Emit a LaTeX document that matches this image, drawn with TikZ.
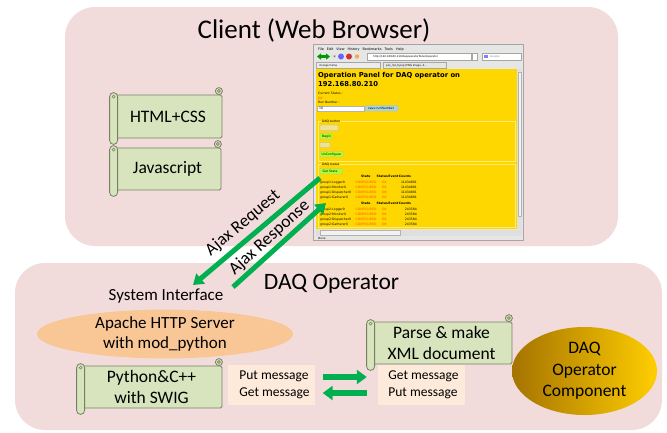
\documentclass[tikz,border=0pt]{standalone}
\usepackage{fontspec}
\setmainfont{Carlito}
\newfontfamily\uifont{DejaVu Sans}
\usetikzlibrary{arrows.meta,shapes.geometric}

\definecolor{panelpink}{RGB}{242,220,219}
\definecolor{scrollgreen}{RGB}{215,228,189}
\definecolor{scrollline}{RGB}{120,128,100}
\definecolor{apacheorange}{RGB}{249,198,150}
\definecolor{msgpeach}{RGB}{253,234,218}
\definecolor{ajaxgreen}{RGB}{0,176,80}
\definecolor{golddark}{RGB}{165,115,0}
\definecolor{goldlight}{RGB}{255,206,0}
\definecolor{pageyellow}{RGB}{255,215,0}
\definecolor{fieldline}{RGB}{255,236,120}
\definecolor{chromegray}{RGB}{230,230,228}
\definecolor{btnblue}{RGB}{170,214,228}
\definecolor{btngreen}{RGB}{173,255,47}
\definecolor{btnpale}{RGB}{238,226,150}
\definecolor{stateorange}{RGB}{255,80,0}

% rolled parts of a horizontal scroll drawn around a body node
\newcommand\scrolldeco[1]{%
  \draw[scrollpart, rounded corners=3.5pt] ([xshift=-7pt]#1.north east) rectangle ([yshift=7pt]#1.north east);
  \draw[scrollline, line width=0.6pt] ([shift={(-3.5pt,3.6pt)}]#1.north east) circle[radius=1.5pt];
  \draw[scrollpart, rounded corners=4pt] ([shift={(-4pt,2pt)}]#1.north west) rectangle ([shift={(4pt,-6pt)}]#1.south west);
  \draw[scrollline, line width=0.6pt] ([yshift=-2pt]#1.north west) circle[radius=1.5pt];
}

% one line of the status table
\newcommand\statusrow[4]{%
  \node[uitext] (#1name) at (320,#2) {#3};
  \node[uitext, text=stateorange] (#1state) at (355.5,#2) {CONFIGURED};
  \node[uitext, text=stateorange] (#1ok) at (382,#2) {OK};
  \node[uitext, anchor=base east] (#1count) at (417,#2) {#4};
}

\begin{document}
\begin{tikzpicture}[x=1pt,y=-1pt,
  panel/.style={fill=panelpink, rounded corners=30pt},
  title/.style={font=\fontsize{27}{30}\selectfont, inner sep=0pt},
  scrollbody/.style={draw=scrollline, fill=scrollgreen, line width=0.8pt,
    rounded corners=1.5pt, inner sep=0pt, align=center,
    font=\fontsize{17.5}{20.5}\selectfont},
  scrollpart/.style={draw=scrollline, fill=scrollgreen, line width=0.8pt},
  msgbox/.style={fill=msgpeach, inner sep=0pt, align=left,
    minimum width=87pt, minimum height=40pt,
    font=\fontsize{13.5}{16.5}\selectfont},
  ajax/.style={draw=ajaxgreen, line width=5pt},
  ajaxlabel/.style={sloped, inner sep=0pt, font=\fontsize{17.5}{20}\selectfont},
  msgarrow/.style={draw=ajaxgreen, line width=6pt, -{Triangle[width=14pt,length=10pt]}},
  uitext/.style={font=\uifont\fontsize{3.1}{4}\selectfont, inner sep=0pt, anchor=base west},
  button/.style={draw=gray!60, line width=0.2pt, rounded corners=0.6pt},
]
\useasboundingbox (0,0) rectangle (667,432);

% ---------- the two panels ----------
\fill[panel] (65,7) rectangle (618,246);
\fill[panel] (15,263) rectangle (662,430);
\node[title] (clienttitle) at (314,30) {Client (Web Browser)};
\node[font=\fontsize{23.5}{26}\selectfont, inner sep=0pt] (daqtitle) at (331.5,284) {DAQ Operator};

% ---------- browser window ----------
\node[draw=gray!70, line width=0.4pt, fill=chromegray, minimum width=210pt,
      minimum height=196pt, inner sep=0pt] (browser) at (418,142) {};
\node[uitext, font=\uifont\fontsize{3.4}{4}\selectfont] (menubar) at (318,50)
  {File\hspace{3pt}Edit\hspace{3pt}View\hspace{3pt}History\hspace{3pt}Bookmarks\hspace{3pt}Tools\hspace{3pt}Help};
% toolbar
\fill[green!60!black] (317,56.5) -- (321,53.3) -- (321,59.7) -- cycle;
\fill[green!60!black] (320.5,55.3) rectangle (324,57.7);
\fill[green!60!black] (330,56.5) -- (326,53.3) -- (326,59.7) -- cycle;
\fill[green!60!black] (323,55.3) rectangle (326.5,57.7);
\fill[gray] (333,55.5) -- (336,55.5) -- (334.5,57.5) -- cycle;
\fill[blue!60] (341,56.5) circle[radius=3pt];
\fill[red!60!gray] (349,56.5) circle[radius=3pt];
\fill[orange!70] (357,56.5) circle[radius=2.2pt];
\draw[gray!70, fill=white, line width=0.3pt] (367,53.5) rectangle (471,59.7);
\node[uitext, font=\uifont\fontsize{2.6}{3}\selectfont] (urltext) at (373,57.5) {http://192.168.80.210/daqoperatorPanel/operator};
\draw[gray!70, fill=white, line width=0.3pt] (472,53.5) rectangle (477,59.7);
\draw[gray!70, fill=white, line width=0.3pt] (482,53.5) rectangle (521,59.7);
\node[uitext, text=gray, font=\uifont\fontsize{2.6}{3}\selectfont] (searchtext) at (490,57.5) {Google};
\fill[blue!50] (483.5,55) rectangle (488,58.3);
% tabs
\draw[gray!70, fill=white!85!gray, line width=0.3pt] (316,62) rectangle (380,68);
\node[uitext, font=\uifont\fontsize{2.6}{3}\selectfont] (tabone) at (319,66) {change frame};
\draw[gray!70, fill=chromegray, line width=0.3pt] (383,62) rectangle (446,68);
\node[uitext, font=\uifont\fontsize{2.6}{3}\selectfont] (tabtwo) at (386,66) {pos\_list\_0.png (PNG Image, 4...};
% page area
\fill[pageyellow] (316,69) rectangle (517,229);
\fill[gray!25] (517,69) rectangle (522,229);
\draw[gray!60, fill=white!90!gray, line width=0.2pt] (517.8,72) rectangle (521.2,216);
\fill[gray!25] (316,229.5) rectangle (522,235.5);
\draw[gray!60, fill=white!90!gray, line width=0.2pt] (320,230.3) rectangle (400,234.7);
\node[uitext, font=\uifont\fontsize{2.8}{3}\selectfont] (statusbar) at (318,239.3) {Done};
\node[uitext, font=\uifont\bfseries\fontsize{6.8}{9}\selectfont] (pagetitle) at (318,77) {Operation Panel for DAQ operator on};
\node[uitext, font=\uifont\bfseries\fontsize{6.8}{9}\selectfont] (pageaddr) at (318,86) {192.168.80.210};
\node[uitext] (curstatus) at (318,94.5) {Current Status :};
\node[uitext, text=stateorange] (curok) at (318,99) {OK};
\node[uitext] (runnumber) at (318,103.5) {Run Number :};
\draw[gray!60, fill=white, line width=0.2pt] (317.5,106) rectangle (364,111);
\node[uitext] (runvalue) at (319,109.7) {10};
\draw[button, fill=btnblue] (365.5,105.5) rectangle (398,111);
\node[uitext] (savebtn) at (368,109.5) {save runNumber};
% fieldsets
\draw[fieldline, line width=0.4pt] (318,121) rectangle (515,161);
\fill[pageyellow] (321,119.5) rectangle (340,122.5);
\node[uitext] (legendbutton) at (322,122) {DAQ button};
\draw[button, fill=btnpale] (320,125) rectangle (338,130.5);
\draw[button, fill=btngreen] (320,133.5) rectangle (332,139);
\node[uitext] (beginbtn) at (322,137.5) {Begin};
\draw[button, fill=btnpale] (320,142.5) rectangle (330,147.5);
\draw[button, fill=btngreen] (320,151.5) rectangle (343,157);
\node[uitext] (unconfbtn) at (321.5,155.5) {UnConfigure};
\draw[fieldline, line width=0.4pt] (318,164) rectangle (515,227);
\fill[pageyellow] (321,162.5) rectangle (339,165.5);
\node[uitext] (legendstatus) at (322,165.5) {DAQ status};
\draw[button, fill=btngreen] (320,168.5) rectangle (342,174);
\node[uitext] (getstate) at (322.5,172.5) {Get State};
% status tables
\node[uitext, font=\uifont\bfseries\fontsize{3.1}{4}\selectfont] (headone) at (361,177.5) {State\hspace{6pt}Status\,Event\,Counts};
\statusrow{a}{183}{group1:Logger0}{11434891}
\statusrow{b}{188.3}{group1:Monitor0}{11434891}
\statusrow{c}{193.6}{group1:Dispatcher0}{11434891}
\statusrow{d}{198.9}{group1:Gatherer0}{11434891}
\node[uitext, font=\uifont\bfseries\fontsize{3.1}{4}\selectfont] (headtwo) at (361,204.6) {State\hspace{6pt}Status\,Event\,Counts};
\statusrow{e}{210}{group2:Logger0}{243584}
\statusrow{f}{215.3}{group2:Monitor0}{243584}
\statusrow{g}{220.6}{group2:Dispatcher0}{243584}
\statusrow{h}{225.9}{group2:Gatherer0}{243584}

% ---------- client side scrolls ----------
\node[scrollbody, minimum width=108pt, minimum height=43pt] (html) at (168,116.5) {HTML+CSS};
\scrolldeco{html}
\node[scrollbody, minimum width=107pt, minimum height=42pt] (js) at (167.5,169) {Javascript};
\scrolldeco{js}

% ---------- DAQ operator side ----------
\node[font=\fontsize{17}{20}\selectfont, inner sep=0pt] (sysif) at (166,296.5) {System Interface};
\node[ellipse, fill=apacheorange, minimum width=256pt, minimum height=48pt, inner sep=0pt,
      align=center, font=\fontsize{17}{20}\selectfont] (apache) at (165,334) {Apache HTTP Server\\with mod\_python};
\node[scrollbody, minimum width=141pt, minimum height=42pt] (pyswig) at (151.5,387) {Python\&C++\\with SWIG};
\scrolldeco{pyswig}
\node[scrollbody, minimum width=141pt, minimum height=42pt] (parse) at (441.5,343) {Parse \& make\\XML document};
\scrolldeco{parse}
\node[msgbox] (msgL) at (271,385) {\hspace{7pt}Put message\\\hspace{7pt}Get message};
\node[msgbox] (msgR) at (421.5,385) {\hspace{4pt}Get message\\\hspace{4pt}Put message};
\node[ellipse, left color=golddark, right color=goldlight, minimum width=145pt,
      minimum height=88pt, inner sep=0pt, align=center,
      font=\fontsize{17.5}{21.5}\selectfont] (daqcomp) at (584.5,371) {DAQ\\Operator\\Component};

% ---------- message arrows ----------
\draw[msgarrow] ([shift={(8pt,8pt)}]msgL.east) -- ([shift={(-11pt,8pt)}]msgR.west);
\draw[msgarrow] ([shift={(-11pt,-8pt)}]msgR.west) -- ([shift={(8pt,-8pt)}]msgL.east);

% ---------- Ajax traffic ----------
\coordinate (reqTip) at (193,285);
\coordinate (reqTail) at (320,178);
\coordinate (resTail) at (233,287);
\coordinate (resTip) at (326,203);
\draw[ajax, {Triangle[width=13pt,length=10pt]}-] (reqTip) -- node[ajaxlabel, pos=0.47, above=5pt] (reqlabel) {Ajax Request} (reqTail);
\draw[ajax, -{Triangle[width=13pt,length=10pt]}] (resTail) -- node[ajaxlabel, pos=0.48, above=2pt] (reslabel) {Ajax Response} (resTip);
\end{tikzpicture}
\end{document}
